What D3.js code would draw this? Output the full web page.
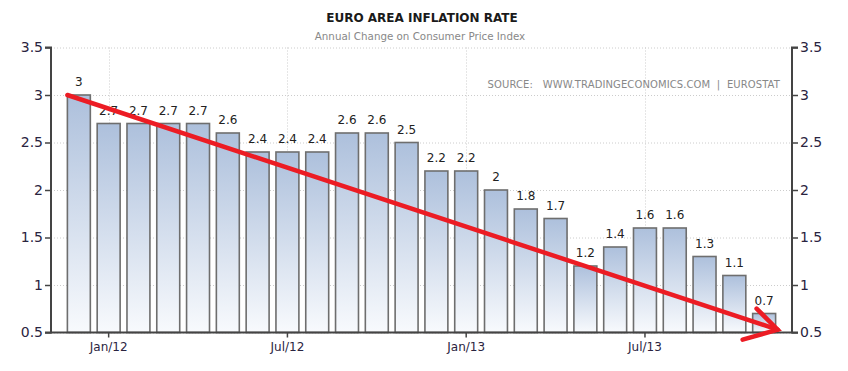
<!DOCTYPE html>
<html>
<head>
<meta charset="utf-8">
<script src="https://cdn.jsdelivr.net/npm/d3@7"></script>
<style>
  body { margin: 0; background: #fff; }
  svg text { font-family: Tahoma, "DejaVu Sans", Verdana, sans-serif; }
</style>
</head>
<body>
<div id="chart"></div>
<script>
// monthly readings, Nov 2011 .. Oct 2013
var months = ["Nov/11", "Dec/11", "Jan/12", "Feb/12", "Mar/12", "Apr/12", "May/12", "Jun/12",
    "Jul/12", "Aug/12", "Sep/12", "Oct/12", "Nov/12", "Dec/12", "Jan/13", "Feb/13",
    "Mar/13", "Apr/13", "May/13", "Jun/13", "Jul/13", "Aug/13", "Sep/13", "Oct/13"];
var inflation = [3, 2.7, 2.7, 2.7, 2.7, 2.6, 2.4, 2.4, 2.4, 2.6, 2.6, 2.5,
    2.2, 2.2, 2, 1.8, 1.7, 1.2, 1.4, 1.6, 1.6, 1.3, 1.1, 0.7];
// date axis ticks sit on the month-end bars
var tickMonths = ["Dec/11", "Jun/12", "Dec/12", "Jun/13"];
var tickLabels = ["Jan/12", "Jul/12", "Jan/13", "Jul/13"];
var yTicks = [0.5, 1, 1.5, 2, 2.5, 3, 3.5];
// trend arrow drawn over the chart: from first reading down to the axis floor
var arrowFrom = {month: "Nov/11", value: 3};
var arrowTo = {month: "Oct/13", value: 0.53};

var width = 848, height = 371;
var margin = {top: 47.5, right: 56, bottom: 38.5, left: 51};

var svg = d3.select("#chart").append("svg")
    .attr("width", width)
    .attr("height", height);

var x = d3.scaleBand()
    .domain(months)
    .range([margin.left, width - margin.right])
    .paddingInner(0.23)
    .paddingOuter(0.55);

var y = d3.scaleLinear()
    .domain([0.5, 3.5])
    .range([height - margin.bottom, margin.top]);

var defs = svg.append("defs");
var grad = defs.append("linearGradient")
    .attr("id", "barGrad")
    .attr("x1", 0).attr("y1", 0).attr("x2", 0).attr("y2", 1);
grad.append("stop").attr("offset", "0%").attr("stop-color", "#adc0dc");
grad.append("stop").attr("offset", "100%").attr("stop-color", "#f8fafd");

// titles
svg.append("text")
    .attr("x", 422).attr("y", 22)
    .attr("text-anchor", "middle")
    .style("font-size", "12px")
    .style("font-weight", "bold")
    .style("fill", "#1a1a1a")
    .text("EURO AREA INFLATION RATE");
svg.append("text")
    .attr("x", 420).attr("y", 40)
    .attr("text-anchor", "middle")
    .style("font-size", "10.3px")
    .style("fill", "#888")
    .text("Annual Change on Consumer Price Index");

// grid
var grid = svg.append("g").attr("class", "grid");
grid.selectAll("line.h")
    .data(yTicks)
    .enter().append("line")
    .attr("class", "h")
    .attr("x1", margin.left).attr("x2", width - margin.right)
    .attr("y1", function (d) { return y(d) + 0.5; })
    .attr("y2", function (d) { return y(d) + 0.5; })
    .style("stroke", "#ccc")
    .style("stroke-dasharray", "1,2");
grid.selectAll("line.v")
    .data(tickMonths)
    .enter().append("line")
    .attr("class", "v")
    .attr("x1", function (d) { return Math.round(x(d) + x.bandwidth() / 2) + 0.5; })
    .attr("x2", function (d) { return Math.round(x(d) + x.bandwidth() / 2) + 0.5; })
    .attr("y1", margin.top).attr("y2", height - margin.bottom)
    .style("stroke", "#ccc")
    .style("stroke-dasharray", "1,2");

svg.append("text")
    .attr("x", 780).attr("y", 88)
    .attr("text-anchor", "end")
    .attr("xml:space", "preserve")
    .style("font-size", "10px")
    .style("letter-spacing", "0.1px")
    .style("fill", "#888")
    .text("SOURCE:   WWW.TRADINGECONOMICS.COM  |  EUROSTAT");

// bars
svg.append("g")
    .selectAll("rect")
    .data(inflation)
    .enter().append("rect")
    .attr("x", function (d, i) { return x(months[i]); })
    .attr("y", function (d) { return y(d); })
    .attr("width", x.bandwidth())
    .attr("height", function (d) { return y(0.5) - y(d); })
    .style("fill", "url(#barGrad)")
    .style("stroke", "#6e6e6e")
    .style("stroke-width", 1.6);

svg.append("g")
    .selectAll("text")
    .data(inflation)
    .enter().append("text")
    .attr("x", function (d, i) { return x(months[i]) + x.bandwidth() / 2; })
    .attr("y", function (d) { return y(d) - 9; })
    .attr("text-anchor", "middle")
    .style("font-size", "12px")
    .style("fill", "#222")
    .text(function (d) { return d; });

// axes
var yLeft = d3.axisLeft(y).tickValues(yTicks).tickSize(6).tickFormat(d3.format("~g"));
var yRight = d3.axisRight(y).tickValues(yTicks).tickSize(6).tickFormat(d3.format("~g"));
var xAxis = d3.axisBottom(x).tickValues(tickMonths).tickSize(5)
    .tickFormat(function (d) { return tickLabels[tickMonths.indexOf(d)]; });

function styleAxis(g) {
    g.select(".domain").style("stroke", "#444").style("stroke-width", 2);
    g.selectAll(".tick line").style("stroke", "#444").style("stroke-width", 1.5);
    g.selectAll(".tick text")
        .style("font-family", "Tahoma, 'DejaVu Sans', sans-serif")
        .style("fill", "#2a2440");
}

svg.append("g")
    .attr("transform", "translate(" + margin.left + ",0)")
    .call(yLeft)
    .call(function (g) {
        g.select(".domain").attr("d", "M-6," + y(0.5) + "H0V" + y(3.5) + "H-6");
        styleAxis(g);
        g.selectAll(".tick text").style("font-size", "14px").attr("x", -8);
    });

svg.append("g")
    .attr("transform", "translate(" + (width - margin.right) + ",0)")
    .call(yRight)
    .call(function (g) {
        g.select(".domain").attr("d", "M6," + y(0.5) + "H0V" + y(3.5) + "H6");
        styleAxis(g);
        g.selectAll(".tick text").style("font-size", "14px").attr("x", 8);
    });

svg.append("g")
    .attr("transform", "translate(0," + y(0.5) + ")")
    .call(xAxis)
    .call(function (g) {
        g.select(".domain").attr("d", "M" + margin.left + ",0H" + (width - margin.right));
        styleAxis(g);
        g.selectAll(".tick text").style("font-size", "12px").attr("y", 10);
    });

// red trend arrow
var ax1 = x(arrowFrom.month), ay1 = y(arrowFrom.value);
var ax2 = x(arrowTo.month) + x.bandwidth() + 2, ay2 = y(arrowTo.value);
var arrow = svg.append("g")
    .style("stroke", "#ec1c24")
    .style("stroke-width", 4.5)
    .style("stroke-linecap", "round")
    .style("fill", "none");
arrow.append("line")
    .attr("x1", ax1).attr("y1", ay1)
    .attr("x2", ax2).attr("y2", ay2);
arrow.append("path")
    .attr("d", "M" + (ax2 - 21) + "," + (ay2 - 21) + "L" + ax2 + "," + ay2 + "L" + (ax2 - 35) + "," + (ay2 + 10));
</script>
</body>
</html>
